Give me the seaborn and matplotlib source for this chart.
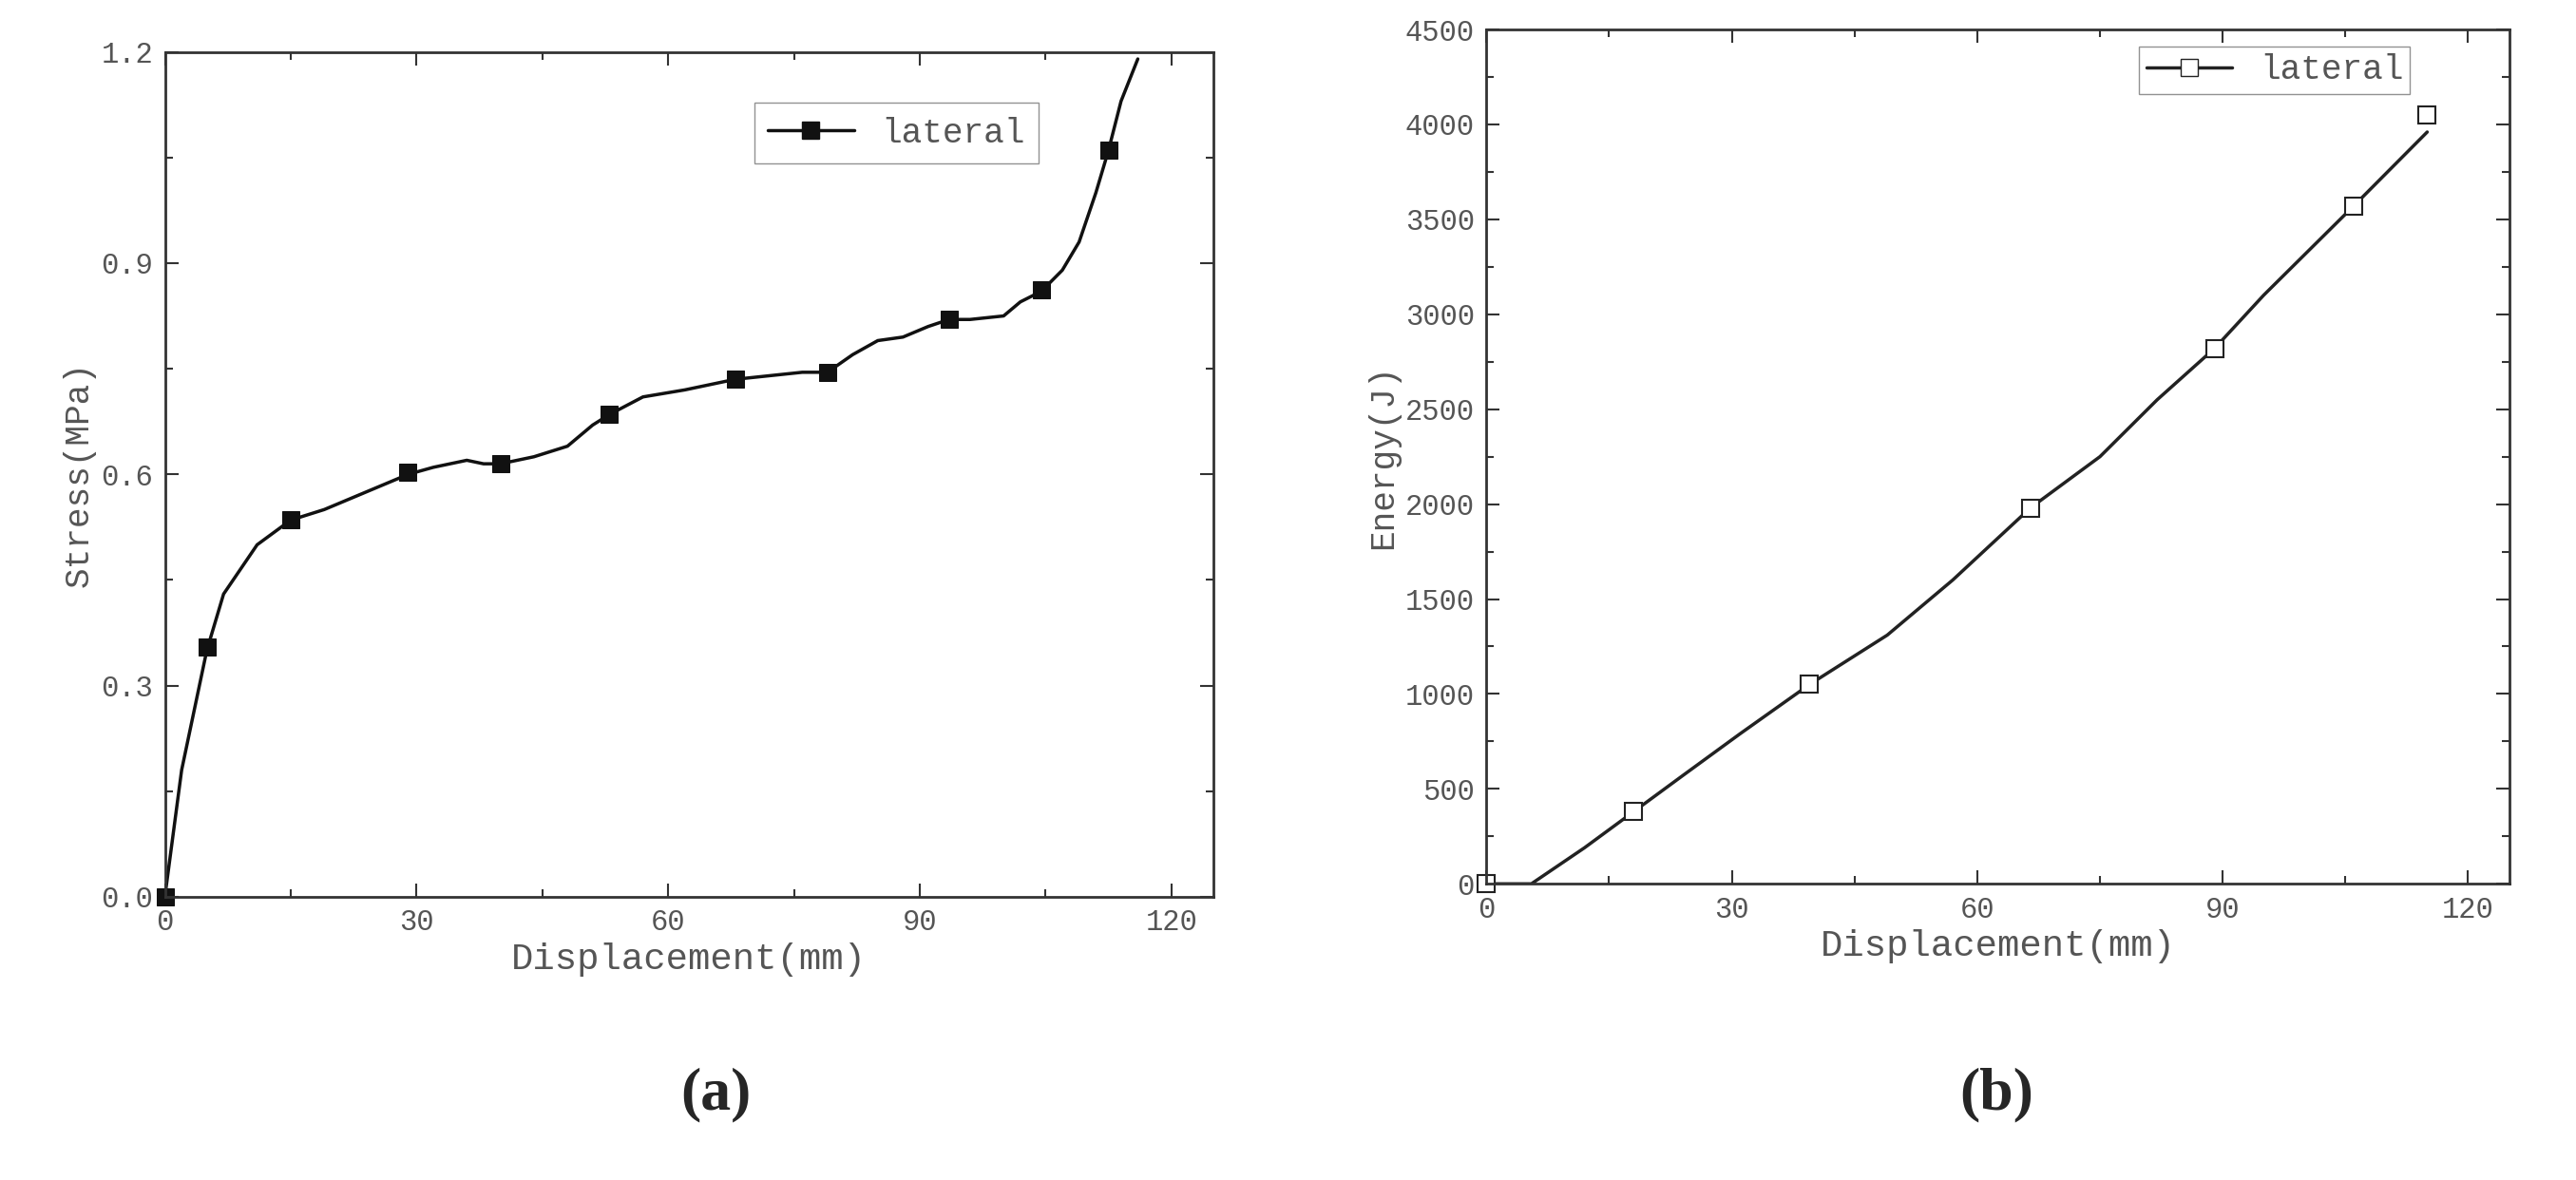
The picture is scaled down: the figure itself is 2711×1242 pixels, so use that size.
import matplotlib
matplotlib.use("Agg")
import matplotlib.pyplot as plt
import seaborn as sns
import pandas as pd
from matplotlib.ticker import MultipleLocator

sns.set_style("ticks")
plt.rcParams['font.family'] = ['Liberation Mono', 'DejaVu Sans']

stress_x = [0, 2, 5, 7, 11, 15, 19, 23, 27, 29, 32, 36, 38, 40, 44, 48, 51, 53, 57, 62, 68, 72, 76, 79, 82, 85, 88, 91, 93.5, 96, 100, 102, 104.5, 107, 109, 111, 112.5, 114, 116]
stress_y = [0, 0.18, 0.35, 0.43, 0.50, 0.535, 0.55, 0.57, 0.59, 0.60, 0.61, 0.62, 0.615, 0.615, 0.625, 0.64, 0.67, 0.685, 0.71, 0.72, 0.735, 0.74, 0.745, 0.745, 0.77, 0.79, 0.795, 0.81, 0.82, 0.82, 0.825, 0.845, 0.86, 0.89, 0.93, 1.00, 1.06, 1.13, 1.19]
stress_mx = [0, 5, 15, 29, 40, 53, 68, 79, 93.5, 104.5, 112.5]
stress_my = [0, 0.355, 0.535, 0.603, 0.615, 0.685, 0.735, 0.745, 0.82, 0.862, 1.06]

energy_x = [0, 5.5, 12, 18, 24, 31, 39.5, 49, 57, 66.5, 75, 82, 89, 95, 106, 115]
energy_y = [0, 0, 190, 380, 570, 790, 1050, 1310, 1600, 1980, 2250, 2550, 2820, 3100, 3570, 3960]
energy_mx = [0, 18, 39.5, 66.5, 89, 106, 115]
energy_my = [0, 380, 1050, 1980, 2820, 3570, 4050]

fig = plt.figure(figsize=(27.11, 12.42), dpi=100)
ax1 = fig.add_axes([0.064, 0.240, 0.407, 0.716])
ax2 = fig.add_axes([0.577, 0.251, 0.397, 0.724])

gray = '#555555'
def style(ax, xl, yl, ymaj, ymin_):
    ax.set_xlim(0, 125)
    ax.xaxis.set_major_locator(MultipleLocator(30))
    ax.xaxis.set_minor_locator(MultipleLocator(15))
    ax.yaxis.set_major_locator(MultipleLocator(ymaj))
    ax.yaxis.set_minor_locator(MultipleLocator(ymin_))
    ax.tick_params(which='both', direction='in', top=True, right=True, colors='#333333', labelcolor=gray, labelsize=22, pad=9)
    ax.tick_params(which='major', length=10, width=1.5)
    ax.tick_params(which='minor', length=6, width=1.5)
    for s in ax.spines.values():
        s.set_linewidth(2); s.set_color('#333333')
    ax.set_xlabel(xl, fontsize=28, color=gray)
    ax.set_ylabel(yl, fontsize=26, color=gray)

sns.lineplot(x=stress_x, y=stress_y, ax=ax1, color='#111111', lw=2.5)
sns.lineplot(x=stress_mx, y=stress_my, ax=ax1, color='#111111', lw=0, marker='s', markersize=13, markeredgecolor='#111111', clip_on=False)
ax1.set_ylim(0, 1.2)
style(ax1, 'Displacement(mm)', 'Stress(MPa)', 0.3, 0.15)
ax1.yaxis.set_major_formatter(plt.FuncFormatter(lambda v, p: f'{v:.1f}'))
h1 = plt.Line2D([], [], color='#111111', lw=2.5, marker='s', markersize=13)
ax1.legend([h1], ['lateral'], loc='upper right', bbox_to_anchor=(0.85, 0.96), fontsize=26, fancybox=False, edgecolor='#777777', handlelength=2.5, labelcolor=gray)

sns.lineplot(x=energy_x, y=energy_y, ax=ax2, color='#222222', lw=2.5)
sns.lineplot(x=energy_mx, y=energy_my, ax=ax2, color='#222222', lw=0, marker='s', markersize=13, markerfacecolor='white', markeredgecolor='#222222', markeredgewidth=1.5, clip_on=False)
ax2.set_ylim(0, 4500)
style(ax2, 'Displacement(mm)', 'Energy(J)', 500, 250)
h2 = plt.Line2D([], [], color='#222222', lw=2.5, marker='s', markersize=13, markerfacecolor='white')
ax2.legend([h2], ['lateral'], loc='upper right', bbox_to_anchor=(0.92, 1.0), fontsize=26, fancybox=False, edgecolor='#777777', handlelength=2.5, labelcolor=gray, borderpad=0.2)

fig.text(0.278, 0.06, '(a)', fontsize=46, family='Liberation Serif', weight='bold', ha='center')
fig.text(0.775, 0.06, '(b)', fontsize=46, family='Liberation Serif', weight='bold', ha='center')
fig.savefig('out.png', dpi=100)
